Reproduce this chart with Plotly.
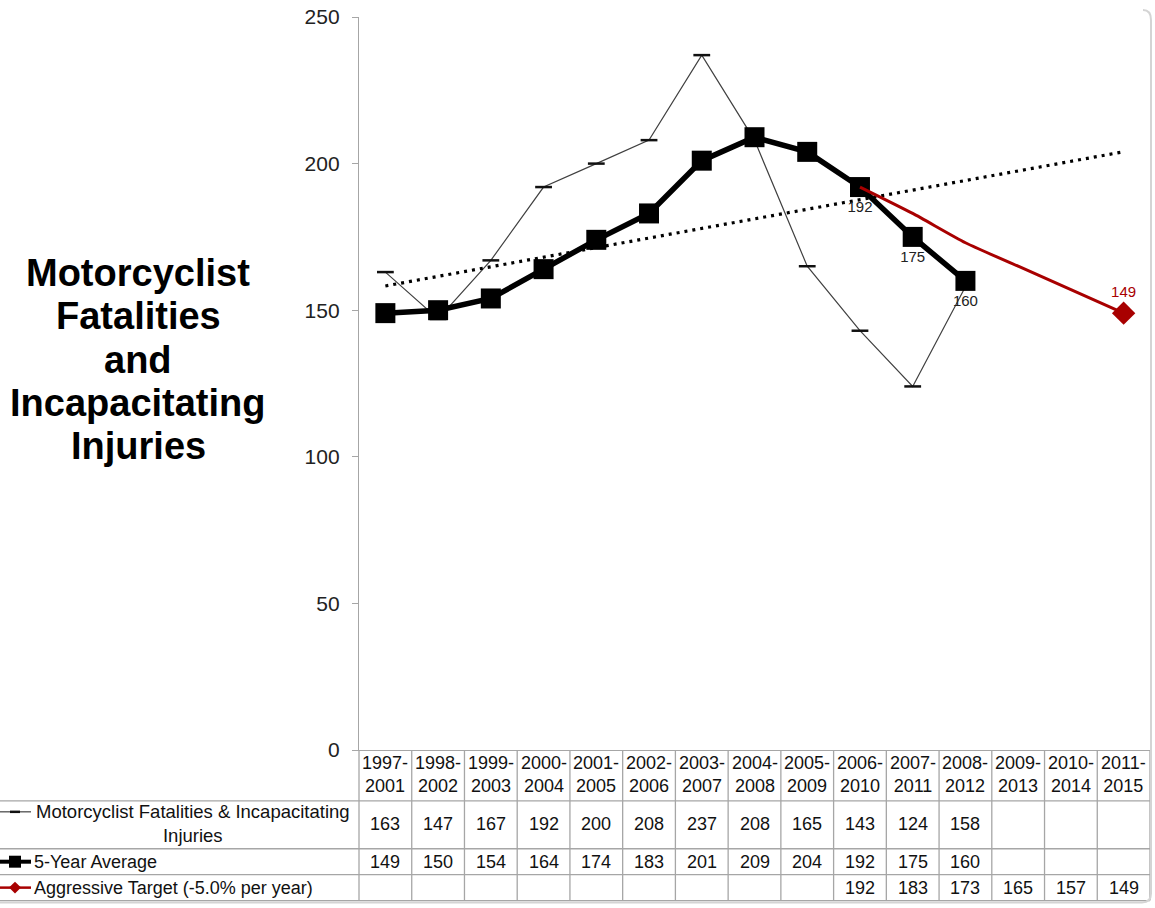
import plotly.graph_objects as go
import numpy as np

# ---------------- data ----------------
periods = ["1997-2001", "1998-2002", "1999-2003", "2000-2004", "2001-2005",
           "2002-2006", "2003-2007", "2004-2008", "2005-2009", "2006-2010",
           "2007-2011", "2008-2012", "2009-2013", "2010-2014", "2011-2015"]
fatalities = [163, 147, 167, 192, 200, 208, 237, 208, 165, 143, 124, 158, None, None, None]
avg5 = [149, 150, 154, 164, 174, 183, 201, 209, 204, 192, 175, 160, None, None, None]
target = [None] * 9 + [192, 183, 173, 165, 157, 149]
yticks = [0, 50, 100, 150, 200, 250]
series_names = ["Motorcyclist Fatalities & Incapacitating<br>Injuries",
                "5-Year Average",
                "Aggressive Target (-5.0% per year)"]
avg_label_idx = [9, 10, 11]
title_lines = ["Motorcyclist", "Fatalities", "and", "Incapacitating", "Injuries"]

# ---------------- geometry helpers ----------------
W, H = 1155, 908
L, R, T, B = 359, 1150, 15, 750  # plot area in pixels


def px(xp):
    return (xp - L) / (R - L)


def py(yp):
    return (B - yp) / (B - T)


RED = "#A80000"
GRID = "#a6a6a6"
FONT = "Liberation Sans, Arial, sans-serif"

# trend line (linear fit on 5-year average), extended over all periods
idx = np.array([i for i, v in enumerate(avg5) if v is not None])
vals = np.array([avg5[i] for i in idx], dtype=float)
slope, icpt = np.polyfit(idx, vals, 1)
trend = slope * np.arange(len(periods)) + icpt

fig = go.Figure()

fig.add_trace(go.Scatter(
    x=periods, y=fatalities, mode="lines+markers",
    line=dict(color="#404040", width=1.2),
    marker=dict(symbol="line-ew", size=12, line=dict(color="#111", width=2.5)),
    showlegend=False, hoverinfo="skip"))

fig.add_trace(go.Scatter(
    x=periods, y=trend, mode="lines",
    line=dict(color="black", width=3.2, dash="3px,5px"),
    showlegend=False, hoverinfo="skip"))

avg_text = [str(v) if i in avg_label_idx else "" for i, v in enumerate(avg5)]
fig.add_trace(go.Scatter(
    x=periods, y=avg5, mode="lines+markers+text",
    line=dict(color="black", width=5.5),
    marker=dict(symbol="square", size=20, color="black"),
    text=avg_text, textposition="bottom center",
    textfont=dict(family=FONT, size=15, color="#222"),
    showlegend=False, hoverinfo="skip"))

last_t = max(i for i, v in enumerate(target) if v is not None)
tgt_sizes = [18 if i == last_t else 0 for i in range(len(target))]
tgt_text = [str(v) if i == last_t else "" for i, v in enumerate(target)]
fig.add_trace(go.Scatter(
    x=periods, y=target, mode="lines+markers+text",
    line=dict(color=RED, width=3, shape="spline", smoothing=0.6),
    marker=dict(symbol="diamond", size=tgt_sizes, color=RED, opacity=1,
                line=dict(width=0)),
    text=tgt_text, textposition="top center",
    textfont=dict(family=FONT, size=15, color=RED),
    showlegend=False, hoverinfo="skip"))

shapes = []
annotations = []

# title
for k, line in enumerate(title_lines):
    annotations.append(dict(
        xref="paper", yref="paper", x=px(138), y=py(272 + k * 43.3),
        text=f"<b>{line}</b>", showarrow=False, xanchor="center", yanchor="middle",
        font=dict(family=FONT, size=38, color="black")))

# ---------------- data table ----------------
n = len(periods)
colw = (R - L) / n
row_lines = [801, 849, 875, 901]
for yl in row_lines:
    shapes.append(dict(type="line", xref="paper", yref="paper",
                       x0=px(0), x1=px(R), y0=py(yl), y1=py(yl),
                       line=dict(color=GRID, width=1.3)))
for k in range(n + 1):
    xv = L + k * colw
    shapes.append(dict(type="line", xref="paper", yref="paper",
                       x0=px(xv), x1=px(xv), y0=py(B), y1=py(901),
                       line=dict(color=GRID, width=1.3)))

# header labels
for k, p in enumerate(periods):
    a, b = p.split("-")
    annotations.append(dict(
        xref="x", yref="paper", x=k, y=py(775), text=f"{a}-<br>{b}",
        showarrow=False, xanchor="center", yanchor="middle",
        font=dict(family=FONT, size=18, color="#111")))

row_y = [824, 862, 888]
for series, yc in zip([fatalities, avg5, target], row_y):
    for k, v in enumerate(series):
        if v is None:
            continue
        annotations.append(dict(
            xref="x", yref="paper", x=k, y=py(yc), text=str(v),
            showarrow=False, xanchor="center", yanchor="middle",
            font=dict(family=FONT, size=18, color="#111")))

# row headers
annotations.append(dict(
    xref="paper", yref="paper", x=px(193), y=py(824), text=series_names[0],
    showarrow=False, xanchor="center", yanchor="middle", align="center",
    font=dict(family=FONT, size=18.5, color="#111")))
for name, yc in zip(series_names[1:], row_y[1:]):
    annotations.append(dict(
        xref="paper", yref="paper", x=px(32), y=py(yc), text=name,
        showarrow=False, xanchor="left", yanchor="middle",
        font=dict(family=FONT, size=18, color="#111")))

# legend keys
shapes.append(dict(type="line", xref="paper", yref="paper", x0=px(0), x1=px(31),
                   y0=py(812), y1=py(812), line=dict(color="#404040", width=1.2)))
shapes.append(dict(type="line", xref="paper", yref="paper", x0=px(10), x1=px(20),
                   y0=py(812), y1=py(812), line=dict(color="#111", width=2.5)))
shapes.append(dict(type="line", xref="paper", yref="paper", x0=px(0), x1=px(31),
                   y0=py(862), y1=py(862), line=dict(color="black", width=4)))
shapes.append(dict(type="rect", xref="paper", yref="paper", x0=px(9), x1=px(21),
                   y0=py(856), y1=py(868), fillcolor="black", line=dict(width=0)))
shapes.append(dict(type="line", xref="paper", yref="paper", x0=px(0), x1=px(31),
                   y0=py(888), y1=py(888), line=dict(color=RED, width=2.5)))
dx0, dy0 = 15, 888
shapes.append(dict(type="path", xref="paper", yref="paper",
                   path=f"M {px(dx0-6)} {py(dy0)} L {px(dx0)} {py(dy0-6)} L {px(dx0+6)} {py(dy0)} L {px(dx0)} {py(dy0+6)} Z",
                   fillcolor=RED, line=dict(width=0)))

# chart frame (right and bottom edges)
shapes.append(dict(type="path", xref="paper", yref="paper",
                   path=f"M {px(1143)} {py(8)} Q {px(1151)} {py(8)} {px(1151)} {py(18)} "
                        f"L {px(1151)} {py(894)} Q {px(1151)} {py(903)} {px(1142)} {py(903)} "
                        f"L {px(-5)} {py(903)}",
                   line=dict(color="#d4d4d4", width=2)))

fig.update_layout(
    width=W, height=H,
    margin=dict(l=L, r=W - R, t=T, b=H - B),
    paper_bgcolor="white", plot_bgcolor="white",
    shapes=shapes, annotations=annotations,
    xaxis=dict(type="category", range=[-0.5, n - 0.5], showgrid=False,
               showline=True, linecolor=GRID, linewidth=1.3,
               showticklabels=False, ticks="", zeroline=False),
    yaxis=dict(range=[0, 250], tickvals=yticks, showgrid=False, zeroline=False,
               showline=True, linecolor=GRID, linewidth=1.3,
               ticks="outside", ticklen=6, tickcolor=GRID, tickwidth=1.3,
               ticklabelstandoff=8,
               tickfont=dict(family=FONT, size=21, color="#222")),
)

fig.write_html("out.html")
